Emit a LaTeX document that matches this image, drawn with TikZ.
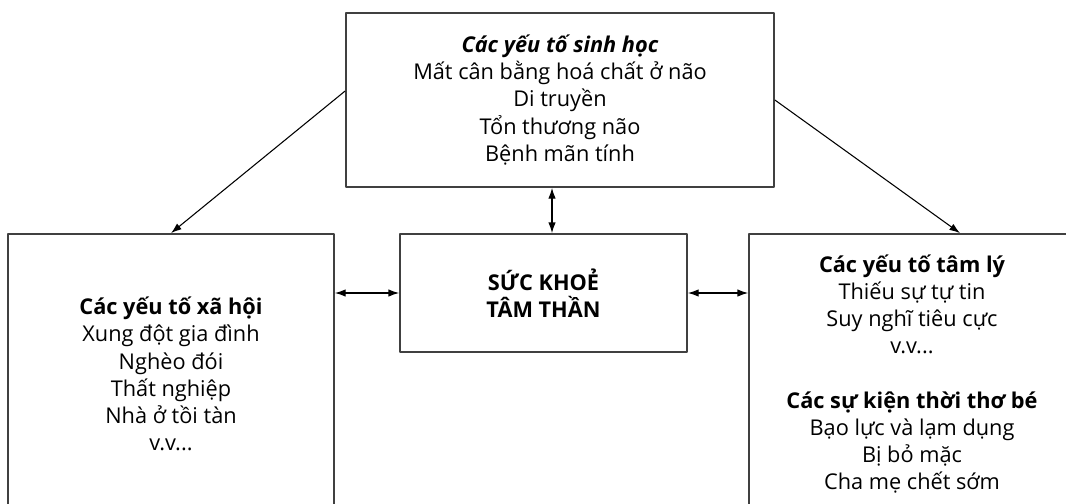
\documentclass[tikz,border=0pt]{standalone}
\usepackage{fontspec}
\setmainfont{Open Sans}
\usepackage{tikz}
\usetikzlibrary{arrows.meta,calc}

\begin{document}
\begin{tikzpicture}[x=0.75pt,y=-0.75pt,>={Latex[length=8pt,width=5.5pt]},line join=round,
    factorbox/.style={draw=black!75,line width=1.3pt,align=center,inner sep=0pt,
      font=\fontsize{16.3pt}{20.4pt}\selectfont},
    link/.style={->,line width=0.8pt},
    biarrow/.style={<->,line width=0.8pt}]
  \useasboundingbox (0,0) rectangle (1066,503);
  \clip (0,0) rectangle (1066,503);
  % boxes
  \node[factorbox,minimum width=321pt,minimum height=130.5pt] (bio) at (560,100)
    {\textbf{\textit{Các yếu tố sinh học}}\\Mất cân bằng hoá chất ở não\\Di truyền\\Tổn thương não\\Bệnh mãn tính};
  \node[factorbox,minimum width=215.25pt,minimum height=88.5pt] (mh) at (543.5,293)
    {\textbf{SỨC KHOẺ}\\\textbf{TÂM THẦN}};
  \node[factorbox,minimum width=244.5pt,minimum height=210pt] (social) at (171,374)
    {\textbf{Các yếu tố xã hội}\\Xung đột gia đình\\Nghèo đói\\Thất nghiệp\\Nhà ở tồi tàn\\v.v...};
  \node[factorbox,minimum width=244.5pt,minimum height=210pt] (psych) at (912,374)
    {\textbf{Các yếu tố tâm lý}\\Thiếu sự tự tin\\Suy nghĩ tiêu cực\\v.v...\\[20.4pt]\textbf{Các sự kiện thời thơ bé}\\Bạo lực và lạm dụng\\Bị bỏ mặc\\Cha mẹ chết sớm};
  \coordinate (vx) at (552,0);
  % connectors
  \draw[link] ([yshift=6.75pt]bio.west) -- (social.north);
  \draw[link] (bio.east) -- ([xshift=36pt]psych.north);
  \draw[biarrow] (bio.south -| vx) -- (mh.north -| vx);
  \draw[biarrow] (social.east |- mh.west) -- (mh.west);
  \draw[biarrow] (mh.east) -- (psych.west |- mh.east);
\end{tikzpicture}
\end{document}
